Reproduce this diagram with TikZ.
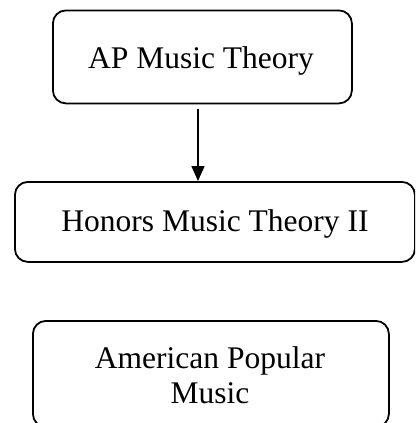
\documentclass[tikz,border=0pt]{standalone}
\usepackage{fontspec}
\setmainfont{Liberation Serif}
\usetikzlibrary{arrows.meta}
\begin{document}
\begin{tikzpicture}[x=1pt,y=-1pt,
  box/.style={draw=black,line width=1.8pt,rounded corners=13pt,inner sep=0pt,anchor=north west},
  lbl/.style={anchor=base,inner sep=0pt,font=\fontsize{31.5}{35}\selectfont},
  arr/.style={line width=1.6pt,-{Triangle[length=15pt,width=13pt]}}]
\useasboundingbox (0,0) rectangle (415,423);
\clip (0,0) rectangle (415,423);
\node[box,minimum width=299pt,minimum height=93pt] (a) at (52,9.5) {};
\node[box,minimum width=400pt,minimum height=80pt] (b) at (14,181) {};
\node[box,minimum width=356pt,minimum height=106pt] (c) at (32,320) {};
\node[lbl] (at) at (201,68.3) {AP Music Theory};
\node[lbl] (bt) at (215,231.7) {Honors Music Theory II};
\node[lbl] (ct1) at (210,368) {American Popular};
\node[lbl] (ct2) at (210,403) {Music};
\coordinate (s) at (198,108.5);
\draw[arr] (s) -- (s |- b.north);
\end{tikzpicture}
\end{document}
